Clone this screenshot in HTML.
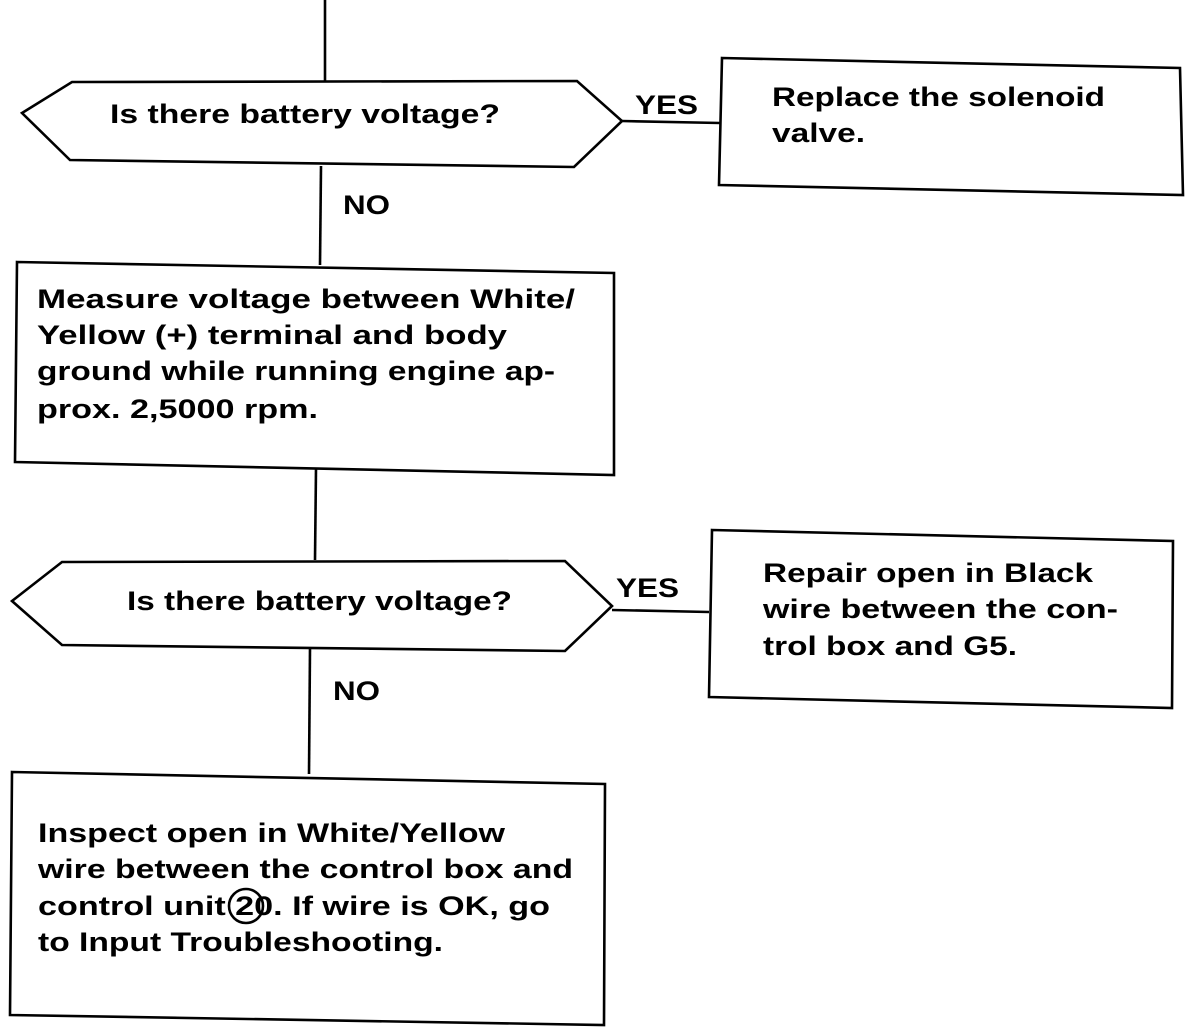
<!DOCTYPE html>
<html><head><meta charset="utf-8"><style>
html,body{margin:0;padding:0;background:#fff;}
svg{display:block;}
text{font-family:"Liberation Sans",Arial,sans-serif;font-weight:bold;font-size:27px;fill:#000;}
</style></head><body>
<svg width="1200" height="1028" viewBox="0 0 1200 1028" xmlns="http://www.w3.org/2000/svg">
<g fill="none" stroke="#000" stroke-width="2.6">
<line x1="325" y1="0" x2="325" y2="82"/>
<polygon points="22,113 72,82 577,81 622,121 574,167 70,160"/>
<line x1="622" y1="121" x2="720" y2="123"/>
<polygon points="722,58 1180,68 1183,195 719,185"/>
<line x1="321" y1="166" x2="320" y2="265"/>
<polygon points="17,262 614,273 614,475 15,462"/>
<line x1="316" y1="468" x2="315" y2="560"/>
<polygon points="12,601 62,562 565,561 612,606 565,651 62,645"/>
<line x1="612" y1="610" x2="709" y2="612"/>
<polygon points="712,530 1173,541 1172,708 709,697"/>
<line x1="310" y1="648" x2="309" y2="774"/>
<polygon points="12,772 605,784 604,1025 10,1015"/>
<circle cx="246" cy="906" r="17"/>
</g>
<text x="110" y="123" textLength="390" lengthAdjust="spacingAndGlyphs">Is there battery voltage?</text>
<text x="635" y="114" textLength="63" lengthAdjust="spacingAndGlyphs">YES</text>
<text x="772" y="106" textLength="333" lengthAdjust="spacingAndGlyphs">Replace the solenoid</text>
<text x="772" y="142" textLength="93" lengthAdjust="spacingAndGlyphs">valve.</text>
<text x="343" y="214" textLength="47" lengthAdjust="spacingAndGlyphs">NO</text>
<text x="37" y="308" textLength="538" lengthAdjust="spacingAndGlyphs">Measure voltage between White/</text>
<text x="37" y="344" textLength="470" lengthAdjust="spacingAndGlyphs">Yellow (+) terminal and body</text>
<text x="37" y="380" textLength="518" lengthAdjust="spacingAndGlyphs">ground while running engine ap-</text>
<text x="37" y="418" textLength="281" lengthAdjust="spacingAndGlyphs">prox. 2,5000 rpm.</text>
<text x="127" y="610" textLength="385" lengthAdjust="spacingAndGlyphs">Is there battery voltage?</text>
<text x="616" y="597" textLength="63" lengthAdjust="spacingAndGlyphs">YES</text>
<text x="763" y="582" textLength="330" lengthAdjust="spacingAndGlyphs">Repair open in Black</text>
<text x="763" y="618" textLength="355" lengthAdjust="spacingAndGlyphs">wire between the con-</text>
<text x="763" y="655" textLength="254" lengthAdjust="spacingAndGlyphs">trol box and G5.</text>
<text x="333" y="700" textLength="47" lengthAdjust="spacingAndGlyphs">NO</text>
<text x="38" y="842" textLength="467" lengthAdjust="spacingAndGlyphs">Inspect open in White/Yellow</text>
<text x="38" y="878" textLength="535" lengthAdjust="spacingAndGlyphs">wire between the control box and</text>
<text x="38" y="915" textLength="512" lengthAdjust="spacingAndGlyphs">control unit 20. If wire is OK, go</text>
<text x="38" y="951" textLength="405" lengthAdjust="spacingAndGlyphs">to Input Troubleshooting.</text>
</svg>
</body></html>
